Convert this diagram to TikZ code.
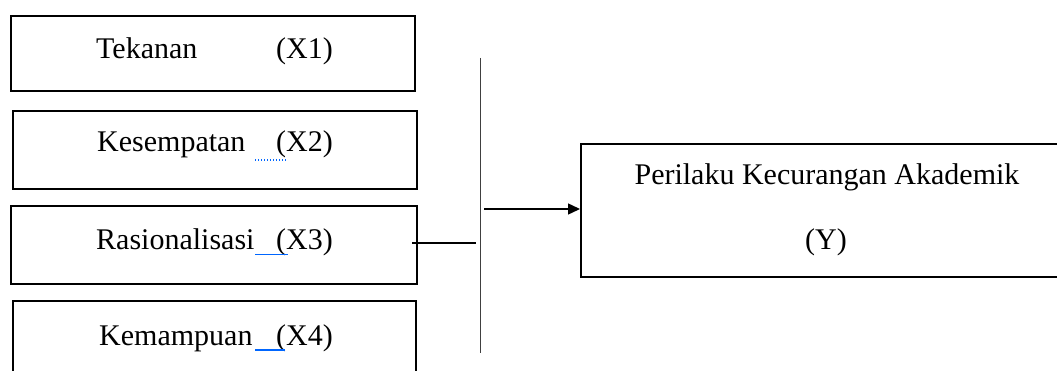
\documentclass[tikz,border=0pt]{standalone}
\usepackage{fontspec}
\setmainfont{Liberation Serif}
\usetikzlibrary{arrows.meta}
\begin{document}
\begin{tikzpicture}[x=1pt,y=-1pt,
  box/.style={draw=black,line width=1.7pt},
  lbl/.style={inner sep=0pt,font=\fontsize{30}{35}\selectfont},
  spell/.style={draw=blue!60!cyan,line width=1pt}]
\useasboundingbox (0,0) rectangle (1057,371);
\clip (0,0) rectangle (1057,371);
% left boxes
\draw[box] (11,16) rectangle (415,91);
\draw[box] (13,111) rectangle (417,189);
\draw[box] (11,206) rectangle (417,284);
\draw[box] (13,301) rectangle (416,390);
\coordinate (b3e) at (412,243);
% texts
\node[lbl,anchor=base west] (t1) at (96,59) {Tekanan};
\node[lbl,anchor=base east] (x1) at (333,59) {(X1)};
\node[lbl,anchor=base west] (t2) at (97,152) {Kesempatan};
\node[lbl,anchor=base east] (x2) at (333,152) {(X2)};
\node[lbl,anchor=base west] (t3) at (96,250) {Rasionalisasi};
\node[lbl,anchor=base east] (x3) at (333,250) {(X3)};
\node[lbl,anchor=base west] (t4) at (99,345) {Kemampuan};
\node[lbl,anchor=base east] (x4) at (333,345) {(X4)};
% spell-check marks
\draw[spell,dotted,line width=1.3pt] (255,160) -- (287,160);
\draw[spell] (255,255) -- (288,255);
\draw[spell,line width=1.5pt] (255,350) -- (285,350);
% connector lines
\coordinate (vt) at (480,58);
\coordinate (vb) at (480,353);
\draw[black!75,line width=1pt] (vt) -- (vb);
\coordinate (v3) at (476,243);
\draw[line width=1.7pt] (b3e) -- (v3);
% Y box
\node[box,minimum width=500pt,minimum height=133pt,anchor=north west,inner sep=0pt] (Y) at (580,143) {};
\node[lbl,anchor=base] (ty) at (827,185) {Perilaku Kecurangan Akademik};
\node[lbl,anchor=base] (ty2) at (826,250) {(Y)};
\coordinate (as) at (484,209);
\draw[line width=1.4pt,-{Triangle[length=12pt,width=11pt]}] (as) -- (as -| Y.west);
\end{tikzpicture}
\end{document}
